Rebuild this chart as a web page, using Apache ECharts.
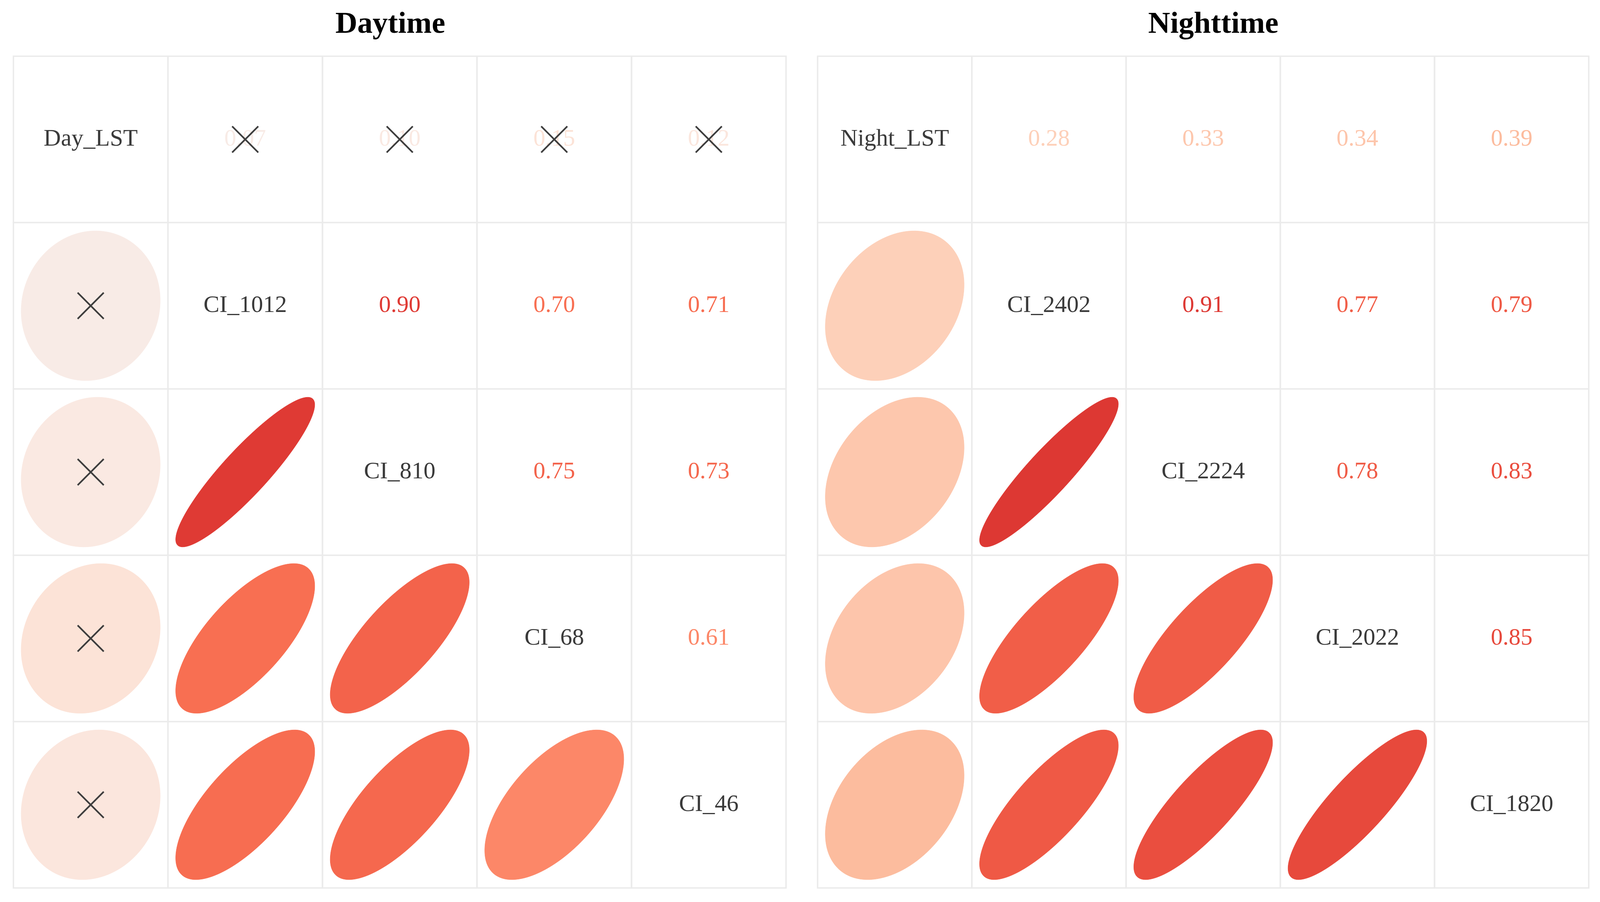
<!DOCTYPE html>
<html><head><meta charset="utf-8">
<script src="https://cdn.jsdelivr.net/npm/echarts@6/dist/echarts.min.js"></script>
<style>html,body{margin:0;padding:0;background:#fff;overflow:hidden}#c{width:100vw;height:100vh}</style>
</head><body><div id="c"></div>
<script>
// ---- data ----
const dayVars = ['Day_LST', 'CI_1012', 'CI_810', 'CI_68', 'CI_46'];
const nightVars = ['Night_LST', 'CI_2402', 'CI_2224', 'CI_2022', 'CI_1820'];
const dayCorr = [
  [1.00, 0.07, 0.10, 0.15, 0.12],
  [0.07, 1.00, 0.90, 0.70, 0.71],
  [0.10, 0.90, 1.00, 0.75, 0.73],
  [0.15, 0.70, 0.75, 1.00, 0.61],
  [0.12, 0.71, 0.73, 0.61, 1.00]
];
const nightCorr = [
  [1.00, 0.28, 0.33, 0.34, 0.39],
  [0.28, 1.00, 0.91, 0.77, 0.79],
  [0.33, 0.91, 1.00, 0.78, 0.83],
  [0.34, 0.77, 0.78, 1.00, 0.85],
  [0.39, 0.79, 0.83, 0.85, 1.00]
];
// pairs (row, col) whose correlation is not significant (crossed out)
const dayInsignificant = [[0, 1], [0, 2], [0, 3], [0, 4]];
const nightInsignificant = [];
const panelTitles = ['Daytime', 'Nighttime'];
// colour ramp for correlation 0 .. 1
const corrColors = ['#F4F0EE', '#FAE9E2', '#FDDCCB', '#FDCDB5', '#FCBA9B', '#FCA284',
                    '#FC8A6A', '#F86F52', '#EE5744', '#DF3A34', '#CB2A2A'];

// ---- build ----
function buildData(mat, insig) {
  const out = [];
  const n = mat.length;
  for (let i = 0; i < n; i++) {
    for (let j = 0; j < n; j++) {
      const kind = i === j ? 0 : (j > i ? 1 : 2);
      const ns = insig.some(p => (p[0] === i && p[1] === j) || (p[0] === j && p[1] === i)) ? 1 : 0;
      out.push([j, i, mat[i][j], kind, ns]);
    }
  }
  return out;
}
const FONT = 'Liberation Serif, Times New Roman, serif';
const el = document.getElementById('c');
const chart = echarts.init(el, null, { renderer: 'canvas' });
const W = chart.getWidth(), H = chart.getHeight();
const sx = W / 4411, sy = H / 2310, sm = Math.min(sx, sy);

function makeRender(vars) {
  return function (params, api) {
    const col = api.value(0), row = api.value(1), r = api.value(2);
    const kind = api.value(3), ns = api.value(4);
    const c = api.coord([col, row]);
    const s = api.size([1, 1]);
    const w = s[0], h = s[1];
    const color = api.visual('color');
    const children = [{
      type: 'rect',
      shape: { x: c[0] - w / 2, y: c[1] - h / 2, width: w, height: h },
      style: { fill: null, stroke: '#EBEBEB', lineWidth: 4 * sm },
      z2: 1
    }];
    const fs = Math.round(66 * sm);
    if (kind === 0) {
      children.push({
        type: 'text', x: c[0], y: c[1], z2: 5,
        style: { text: vars[row], fill: '#3a3a3a', font: fs + 'px ' + FONT, align: 'center', verticalAlign: 'middle' }
      });
    } else if (kind === 1) {
      children.push({
        type: 'text', x: c[0], y: c[1], z2: 5,
        style: { text: r.toFixed(2), fill: color, font: fs + 'px ' + FONT, align: 'center', verticalAlign: 'middle' }
      });
    } else {
      const a = Math.acos(r) / 2;
      const pts = [];
      const sc = 0.9;
      for (let k = 0; k < 120; k++) {
        const t = k / 120 * Math.PI * 2;
        const x = Math.cos(t + a) / 2;
        const y = Math.cos(t - a) / 2;
        pts.push([c[0] + x * w * sc, c[1] - y * h * sc]);
      }
      children.push({
        type: 'polygon', z2: 3,
        shape: { points: pts },
        style: { fill: color, stroke: color, lineWidth: 1 }
      });
    }
    if (ns) {
      const d = 36 * sm;
      const st = { stroke: '#3d3d3d', lineWidth: 4.5 * sm };
      children.push({ type: 'line', z2: 8, shape: { x1: c[0] - d, y1: c[1] - d, x2: c[0] + d, y2: c[1] + d }, style: st });
      children.push({ type: 'line', z2: 8, shape: { x1: c[0] - d, y1: c[1] + d, x2: c[0] + d, y2: c[1] - d }, style: st });
    }
    return { type: 'group', children: children };
  };
}

const titleStyle = { fontFamily: FONT, fontWeight: 'bold', fontSize: Math.round(84 * sm), color: '#000' };
const option = {
  backgroundColor: '#ffffff',
  animation: false,
  title: [
    { text: panelTitles[0], left: 1076 * sx, top: 25 * sy, textAlign: 'center', padding: 0, textStyle: titleStyle },
    { text: panelTitles[1], left: 3345 * sx, top: 25 * sy, textAlign: 'center', padding: 0, textStyle: titleStyle }
  ],
  grid: [
    { left: 37 * sx, top: 144 * sy, width: 2130 * sx, height: 2130 * sy },
    { left: 2254 * sx, top: 144 * sy, width: 2126 * sx, height: 2130 * sy }
  ],
  xAxis: [
    { type: 'category', data: dayVars, gridIndex: 0, show: false },
    { type: 'category', data: nightVars, gridIndex: 1, show: false }
  ],
  yAxis: [
    { type: 'category', data: dayVars, gridIndex: 0, inverse: true, show: false },
    { type: 'category', data: nightVars, gridIndex: 1, inverse: true, show: false }
  ],
  visualMap: [{
    show: false, type: 'continuous', seriesIndex: [0, 1], dimension: 2,
    min: 0, max: 1, inRange: { color: corrColors }
  }],
  series: [
    { type: 'custom', xAxisIndex: 0, yAxisIndex: 0, data: buildData(dayCorr, dayInsignificant),
      renderItem: makeRender(dayVars), silent: true },
    { type: 'custom', xAxisIndex: 1, yAxisIndex: 1, data: buildData(nightCorr, nightInsignificant),
      renderItem: makeRender(nightVars), silent: true }
  ]
};
chart.setOption(option);
</script>
</body></html>
